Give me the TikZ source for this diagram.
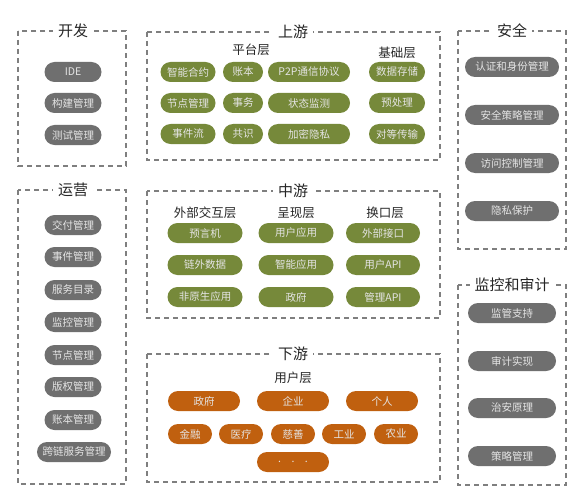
\documentclass[tikz,border=0pt]{standalone}
\usepackage{fontspec}
\setmainfont{Noto Sans CJK SC}
\usepackage{tikz}
\usetikzlibrary{positioning}

\definecolor{pillgray}{HTML}{6F6F6F}
\definecolor{pillgreen}{HTML}{76893A}
\definecolor{pillorange}{HTML}{C0600F}
\definecolor{framegray}{HTML}{7F7F7F}

\tikzset{
  frame/.style={draw=framegray,line width=1.1pt,dash pattern=on 5pt off 4pt},
  frametitle/.style={fill=white,inner sep=5pt,text=black!85,font=\fontsize{15}{15}\selectfont},
  layertitle/.style={text=black!85,font=\fontsize{12.5}{13}\selectfont},
  pill/.style={rectangle,rounded corners=10pt,minimum height=20pt,inner sep=0pt,
    text=white!90!black,font=\fontsize{10.5}{11}\selectfont},
  graypill/.style={pill,fill=pillgray},
  greenpill/.style={pill,fill=pillgreen},
  orangepill/.style={pill,fill=pillorange}
}

\begin{document}
\begin{tikzpicture}[x=1pt,y=-1pt]
\path[use as bounding box,fill=white] (0,0) rectangle (586,500);

% 开发
\draw[frame] (18,31) rectangle (126,166);
\node[frametitle] (dev) at (73,31) {开发};
\node[graypill,minimum width=57pt] (ide) at (73,72) {IDE};
\node[graypill,minimum width=57pt] (build) at (73,103) {构建管理};
\node[graypill,minimum width=57pt] (test) at (73,135) {测试管理};

% 运营
\draw[frame] (18,190) rectangle (126,484);
\node[frametitle] (ops) at (73,190) {运营};
\node[graypill,minimum width=57pt] (deliver) at (73,225) {交付管理};
\node[graypill,minimum width=57pt] (event) at (73,257) {事件管理};
\node[graypill,minimum width=57pt] (catalog) at (73,290) {服务目录};
\node[graypill,minimum width=57pt] (monitor) at (73,322) {监控管理};
\node[graypill,minimum width=57pt] (nodemgmt) at (73,355) {节点管理};
\node[graypill,minimum width=57pt] (copyright) at (73,387) {版权管理};
\node[graypill,minimum width=57pt] (ledgermgmt) at (73,420) {账本管理};
\node[graypill,minimum width=74pt] (crosschain) at (74,452) {跨链服务管理};

% 上游
\draw[frame] (147,32) rectangle (440,160);
\node[frametitle] (up) at (293,32) {上游};
\node[layertitle] (platform) at (251,50) {平台层};
\node[layertitle] (base) at (397,53) {基础层};
\node[greenpill,minimum width=55pt] (contract) at (188,72) {智能合约};
\node[greenpill,minimum width=40pt] (ledger) at (243,72) {账本};
\node[greenpill,minimum width=82pt] (p2p) at (309,72) {P2P通信协议};
\node[greenpill,minimum width=56pt] (storage) at (397,72) {数据存储};
\node[greenpill,minimum width=55pt] (nodes) at (188,103) {节点管理};
\node[greenpill,minimum width=40pt] (trans) at (243,103) {事务};
\node[greenpill,minimum width=82pt] (state) at (309,103) {状态监测};
\node[greenpill,minimum width=56pt] (preproc) at (397,103) {预处理};
\node[greenpill,minimum width=55pt] (stream) at (188,134) {事件流};
\node[greenpill,minimum width=40pt] (consensus) at (243,134) {共识};
\node[greenpill,minimum width=82pt] (crypto) at (309,134) {加密隐私};
\node[greenpill,minimum width=56pt] (peer) at (397,134) {对等传输};

% 中游
\draw[frame] (147,191) rectangle (440,318);
\node[frametitle] (mid) at (293,191) {中游};
\node[layertitle] (extlayer) at (205,213) {外部交互层};
\node[layertitle] (viewlayer) at (296,213) {呈现层};
\node[layertitle] (portlayer) at (385,213) {换口层};
\node[greenpill,minimum width=75pt] (oracle) at (205,233) {预言机};
\node[greenpill,minimum width=75pt] (offchain) at (205,265) {链外数据};
\node[greenpill,minimum width=75pt] (nonnative) at (205,297) {非原生应用};
\node[greenpill,minimum width=75pt] (userapp) at (296,233) {用户应用};
\node[greenpill,minimum width=75pt] (smartapp) at (296,265) {智能应用};
\node[greenpill,minimum width=75pt] (govapp) at (296,297) {政府};
\node[greenpill,minimum width=74pt] (extport) at (383,233) {外部接口};
\node[greenpill,minimum width=74pt] (userapi) at (383,265) {用户API};
\node[greenpill,minimum width=74pt] (mgmtapi) at (383,297) {管理API};

% 下游
\draw[frame] (147,354) rectangle (440,482);
\node[frametitle] (down) at (293,354) {下游};
\node[layertitle] (userlayer) at (293,378) {用户层};
\node[orangepill,minimum width=72pt] (gov) at (204,401) {政府};
\node[orangepill,minimum width=72pt] (enterprise) at (293,401) {企业};
\node[orangepill,minimum width=72pt] (person) at (382,401) {个人};
\node[orangepill,minimum width=44pt] (finance) at (190,434) {金融};
\node[orangepill,minimum width=44pt] (medical) at (241,434) {医疗};
\node[orangepill,minimum width=44pt] (charity) at (293,434) {慈善};
\node[orangepill,minimum width=44pt] (industry) at (344,434) {工业};
\node[orangepill,minimum width=44pt] (farming) at (396,434) {农业};
\node[orangepill,minimum width=72pt] (more) at (293,462) {.\quad.\quad.};

% 安全
\draw[frame] (458,31) rectangle (566,249);
\node[frametitle] (sec) at (512,31) {安全};
\node[graypill,minimum width=94pt] (auth) at (512,67) {认证和身份管理};
\node[graypill,minimum width=94pt] (policy) at (512,115) {安全策略管理};
\node[graypill,minimum width=94pt] (access) at (512,163) {访问控制管理};
\node[graypill,minimum width=94pt] (privacy) at (512,211) {隐私保护};

% 监控和审计
\draw[frame] (458,285) rectangle (566,485);
\node[frametitle] (audit) at (512,285) {监控和审计};
\node[graypill,minimum width=88pt] (supervise) at (512,313) {监管支持};
\node[graypill,minimum width=88pt] (auditimpl) at (512,361) {审计实现};
\node[graypill,minimum width=88pt] (security) at (512,408) {治安原理};
\node[graypill,minimum width=88pt] (strategy) at (512,456) {策略管理};
\end{tikzpicture}
\end{document}
